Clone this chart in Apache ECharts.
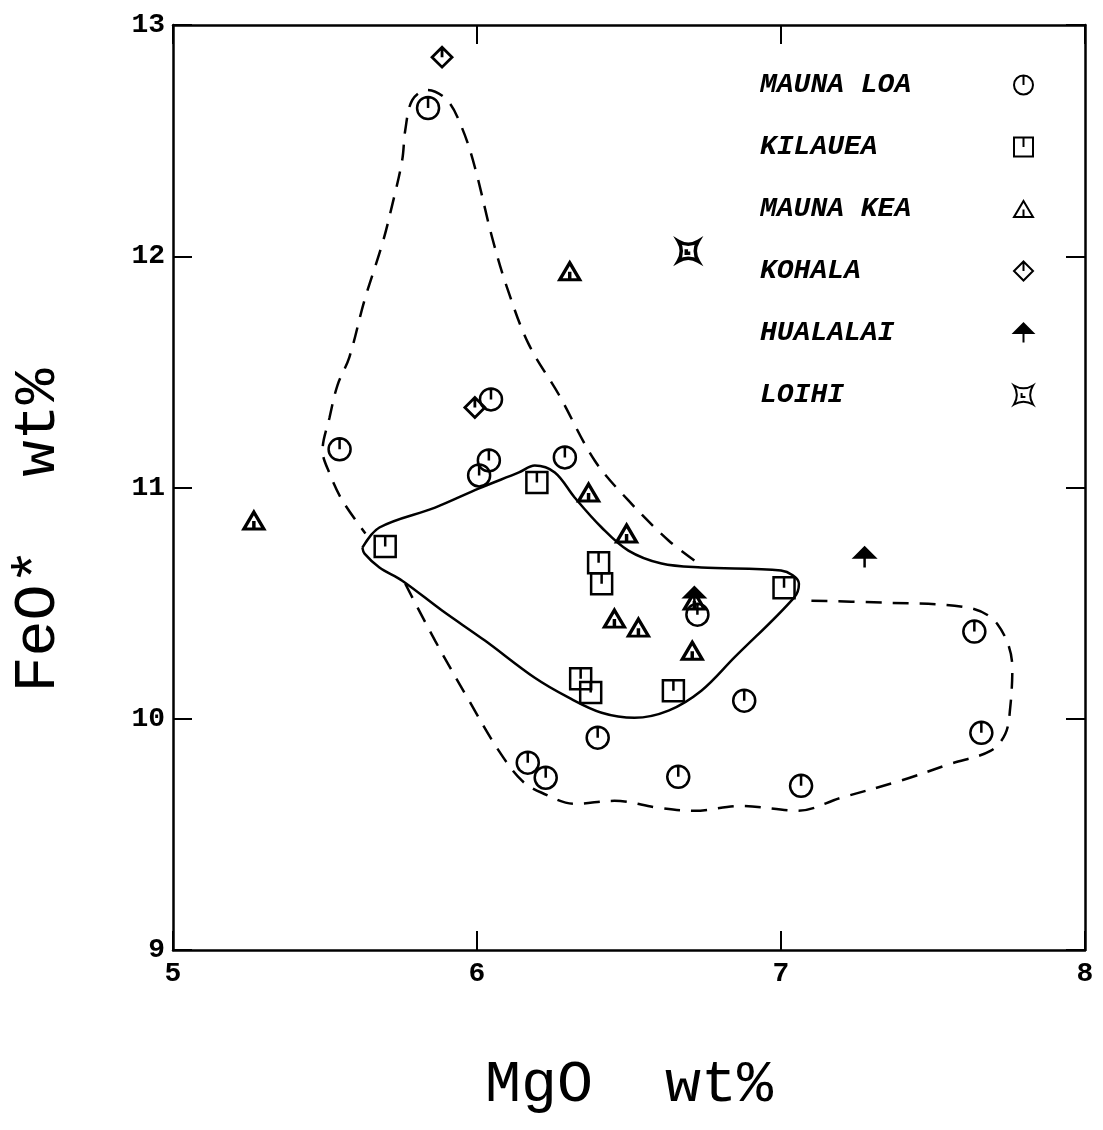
<!DOCTYPE html>
<html>
<head>
<meta charset="UTF-8">
<script src="https://cdn.jsdelivr.net/npm/echarts@6/dist/echarts.min.js"></script>
<style>html,body{margin:0;padding:0;background:#fff}</style>
</head>
<body>
<div id="main" style="width:1103px;height:1130px;"></div>
<script>
// MgO, FeO* pairs
var maunaLoa = [[5.839,12.641],[5.548,11.165],[6.046,11.381],[6.039,11.117],[6.007,11.052],[6.289,11.130],
  [6.725,10.450],[7.636,10.377],[6.879,10.078],[6.397,9.918],[6.167,9.810],[6.226,9.745],[6.662,9.749],
  [7.066,9.710],[7.659,9.939]];
var kilauea = [[5.698,10.745],[6.197,11.022],[6.400,10.675],[6.410,10.584],[7.010,10.567],[6.341,10.173],
  [6.374,10.113],[6.646,10.121]];
var maunaKea = [[5.266,10.857],[6.305,11.935],[6.367,10.978],[6.492,10.801],[6.452,10.433],[6.531,10.394],
  [6.715,10.511],[6.708,10.294]];
var kohala = [[5.885,12.861],[5.993,11.346]];
var hualalai = [[7.275,10.697],[6.715,10.525]];
var loihi = [[6.695,12.022]];

// field outlines (dashed = Mauna Loa field, solid = Kilauea field)
var dashUpper = [[6.715,10.684],[6.630,10.771],[6.498,10.944],[6.387,11.117],[6.270,11.400],[6.170,11.620],
  [6.100,11.860],[6.050,12.080],[5.993,12.385],[5.951,12.554],[5.902,12.675],[5.836,12.719],[5.787,12.675],
  [5.764,12.545],[5.754,12.416],[5.721,12.221],[5.689,12.056],[5.630,11.810],[5.580,11.563],[5.541,11.442],
  [5.515,11.303],[5.492,11.160],[5.515,11.061],[5.557,10.944],[5.633,10.801]];
var dashLower = [[5.764,10.584],[5.862,10.338],[5.974,10.078],[6.072,9.861],[6.148,9.732],[6.213,9.680],
  [6.321,9.632],[6.452,9.645],[6.597,9.615],[6.715,9.602],[6.869,9.623],[7.056,9.602],[7.197,9.658],
  [7.393,9.732],[7.557,9.805],[7.689,9.861],[7.738,9.935],[7.754,10.048],[7.761,10.221],[7.711,10.411],
  [7.613,10.481],[7.338,10.502],[7.066,10.511]];
var solidField = [[5.623,10.740],[5.679,10.827],[5.862,10.913],[6.007,10.996],[6.138,11.065],[6.190,11.095],
  [6.256,11.065],[6.321,10.957],[6.410,10.827],[6.498,10.727],[6.607,10.671],[6.738,10.654],[7.000,10.641],
  [7.059,10.584],[7.043,10.524],[6.846,10.264],[6.738,10.121],[6.630,10.035],[6.518,10.004],[6.410,10.026],
  [6.302,10.091],[6.190,10.177],[6.026,10.338],[5.885,10.468],[5.754,10.597],[5.679,10.654],[5.630,10.714],
  [5.623,10.740]];

var names = ['MAUNA LOA','KILAUEA','MAUNA KEA','KOHALA','HUALALAI','LOIHI'];

var sym = {
  circle: 'path://M-10,0 A10,10 0 1,1 10,0 A10,10 0 1,1 -10,0 Z M0,-10 L0,0',
  square: 'path://M-10,-10 L10,-10 L10,10 L-10,10 Z M0,-10 L0,0',
  tri: 'path://M0,-9 L10,8 L-10,8 Z M0,0 L0,8',
  diamond: 'path://M0,-10 L10,0 L0,10 L-10,0 Z M0,-10 L0,0',
  arrow: 'path://M-10,2 L0,-8 L10,2 Z M0,2 L0,12',
  star: 'path://M-10,-10 Q0,-4 10,-10 Q4,0 10,10 Q0,4 -10,10 Q-4,0 -10,-10 Z M-2,-2 L-2,2 L2,2'
};

var font = 'Liberation Mono';
var chart = echarts.init(document.getElementById('main'));

function pts(name, data, symbol, size, fill, bw) {
  return {
    name: name, type: 'scatter', data: data, symbol: symbol, symbolSize: size,
    itemStyle: {color: fill, borderColor: '#000', borderWidth: bw, opacity: 1},
    z: 5
  };
}
function outline(data, dashed) {
  return {
    type: 'line', data: data, smooth: 0.35, showSymbol: false, symbol: 'none', silent: true,
    lineStyle: {color: '#000', width: 2.5, type: dashed ? [16, 11] : 'solid'},
    z: 3
  };
}

chart.setOption({
  backgroundColor: '#fff',
  animation: false,
  grid: {left: 170, top: 25, width: 915, height: 925},
  legend: {
    data: names, orient: 'vertical', left: 755, top: 66, align: 'right',
    itemWidth: 19, itemHeight: 19, itemGap: 34, selectedMode: false,
    formatter: function (n) { return '{a|' + n + '}'; },
    textStyle: {
      color: '#000',
      rich: {a: {fontFamily: font, fontSize: 28, fontStyle: 'italic', fontWeight: 'bold', color: '#000',
        width: 249, align: 'left', lineHeight: 20}}
    }
  },
  xAxis: [{
    type: 'value', min: 5, max: 8, interval: 1,
    name: 'MgO  wt%', nameLocation: 'middle', nameGap: 105,
    nameTextStyle: {fontFamily: font, fontSize: 60, color: '#000'},
    axisLine: {lineStyle: {color: '#000', width: 2.5}},
    axisTick: {inside: true, length: 19, lineStyle: {color: '#000', width: 2}},
    axisLabel: {fontFamily: font, fontSize: 28, fontWeight: 'bold', color: '#000', margin: 10},
    splitLine: {show: false}
  }, {
    type: 'value', min: 5, max: 8, interval: 1, position: 'top',
    axisLine: {lineStyle: {color: '#000', width: 2.5}},
    axisTick: {inside: true, length: 19, lineStyle: {color: '#000', width: 2}},
    axisLabel: {show: false}, splitLine: {show: false}
  }],
  yAxis: [{
    type: 'value', min: 9, max: 13, interval: 1,
    name: 'FeO*  wt%', nameLocation: 'middle', nameGap: 105, nameRotate: 90,
    nameTextStyle: {fontFamily: font, fontSize: 60, color: '#000', padding: [0, 86, 0, 0]},
    axisLine: {lineStyle: {color: '#000', width: 2.5}},
    axisTick: {inside: true, length: 19, lineStyle: {color: '#000', width: 2}},
    axisLabel: {fontFamily: font, fontSize: 28, fontWeight: 'bold', color: '#000', margin: 8},
    splitLine: {show: false}
  }, {
    type: 'value', min: 9, max: 13, interval: 1, position: 'right',
    axisLine: {lineStyle: {color: '#000', width: 2.5}},
    axisTick: {inside: true, length: 19, lineStyle: {color: '#000', width: 2}},
    axisLabel: {show: false}, splitLine: {show: false}
  }],
  series: [
    outline(dashUpper, true),
    outline(dashLower, true),
    outline(solidField, false),
    pts('MAUNA LOA', maunaLoa, sym.circle, 22, 'rgba(0,0,0,0)', 2.5),
    pts('KILAUEA', kilauea, sym.square, 21, 'rgba(0,0,0,0)', 2.5),
    pts('MAUNA KEA', maunaKea, sym.tri, [20, 17], 'rgba(0,0,0,0)', 3.2),
    pts('KOHALA', kohala, sym.diamond, 20, 'rgba(0,0,0,0)', 2.8),
    pts('HUALALAI', hualalai, sym.arrow, [20, 20], '#000', 2.5),
    pts('LOIHI', loihi, sym.star, 20, 'rgba(0,0,0,0)', 3.5)
  ]
});
</script>
</body>
</html>
